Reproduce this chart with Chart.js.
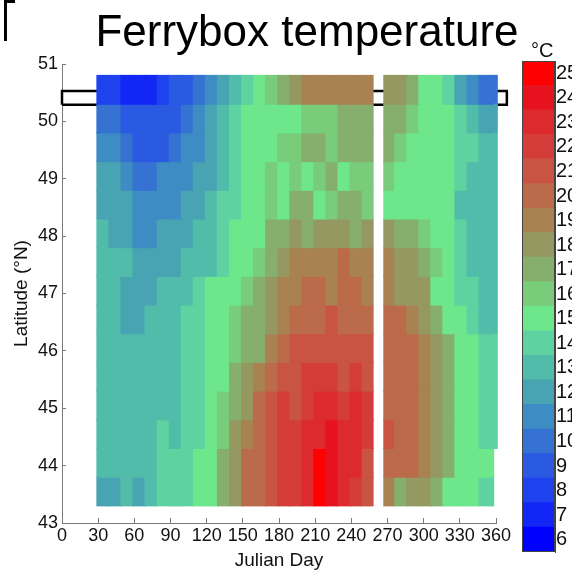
<!DOCTYPE html>
<html>
<head>
<meta charset="utf-8">
<script src="https://cdn.jsdelivr.net/npm/chart.js@4.4.0/dist/chart.umd.min.js"></script>
<style>
    html, body { margin: 0; padding: 0; background: #fff; overflow: hidden; }
    #wrap { position: relative; width: 572px; height: 577px; overflow: hidden; }
    #main { position: absolute; left: 0; top: 0; }
    #cbar { position: absolute; left: 512px; top: 48px; }
    #title { position: absolute; left: 0; top: 9px; width: 614px; text-align: center;
             font: 44px/1 'Liberation Sans', Arial, sans-serif; color: #000; white-space: nowrap; }
    #unit { position: absolute; left: 531px; top: 40px;
            font: 20px/1 'Liberation Sans', Arial, sans-serif; color: #111; }
    #corner { position: absolute; left: 4px; top: 0; width: 8px; height: 38px;
              border-left: 3px solid #000; border-top: 3px solid #000; }
</style>
</head>
<body>
<div id="wrap">
    <div id="corner"></div>
    <canvas id="main" width="520" height="577"></canvas>
    <canvas id="cbar" width="103" height="517"></canvas>
    <div id="title">Ferrybox temperature</div>
    <div id="unit">°C</div>
</div>
<script>
// latitude band centres (each band 0.5 deg), top to bottom
const latCenters = [50.55, 50.05, 49.55, 49.05, 48.55, 48.05, 47.55, 47.05, 46.55, 46.05, 45.55, 45.05, 44.55, 44.05, 43.55];

// Julian day span of each column
const colStart = [29, 39, 49, 59, 69, 79, 89, 99, 109, 119, 129, 139, 149, 159, 169, 179, 189, 199, 209, 219, 229, 239, 249,
                  267, 276, 286, 296, 306, 316, 326, 336, 346];
const colEnd   = [39, 49, 59, 69, 79, 89, 99, 109, 119, 129, 139, 149, 159, 169, 179, 189, 199, 209, 219, 229, 239, 249, 258,
                  276, 286, 296, 306, 316, 326, 336, 346, 358];

// temperature (deg C, colour level) per latitude band, one row per entry of latCenters
const tempRows = [
    [8, 8, 7, 7, 7, 8, 9, 9, 10, 11, 12, 13, 14, 15, 16, 17, 18, 19, 19, 19, 19, 19, 19, 18, 18, 17, 15, 15, 14, 12, 11, 10],
    [10, 10, 9, 9, 9, 9, 9, 10, 11, 12, 13, 14, 15, 15, 15, 15, 15, 16, 16, 16, 17, 17, 17, 17, 17, 16, 15, 15, 15, 14, 13, 12],
    [11, 11, 10, 9, 9, 9, 10, 11, 11, 12, 13, 14, 15, 15, 15, 16, 16, 17, 17, 16, 17, 17, 17, 17, 16, 15, 15, 15, 15, 14, 14, 13],
    [12, 12, 11, 10, 10, 11, 11, 11, 12, 12, 13, 14, 15, 15, 16, 15, 16, 15, 16, 17, 15, 16, 16, 16, 15, 15, 15, 15, 15, 14, 13, 13],
    [12, 12, 12, 11, 11, 11, 11, 12, 12, 13, 14, 14, 15, 15, 16, 15, 17, 17, 15, 16, 17, 17, 16, 15, 15, 15, 15, 15, 15, 13, 13, 13],
    [13, 12, 12, 11, 11, 12, 12, 12, 13, 13, 14, 15, 15, 15, 17, 17, 18, 17, 18, 18, 18, 17, 18, 18, 17, 17, 16, 15, 15, 14, 13, 13],
    [13, 13, 13, 12, 12, 12, 12, 13, 13, 13, 14, 15, 15, 16, 17, 18, 19, 19, 19, 19, 20, 19, 19, 19, 18, 18, 17, 16, 15, 14, 13, 13],
    [13, 13, 12, 12, 12, 13, 13, 13, 14, 15, 15, 15, 16, 17, 18, 19, 19, 20, 20, 19, 20, 20, 19, 19, 18, 18, 18, 15, 15, 14, 14, 13],
    [13, 13, 12, 12, 13, 13, 13, 14, 14, 15, 15, 16, 17, 17, 18, 19, 20, 20, 20, 21, 20, 20, 20, 20, 20, 19, 18, 17, 15, 15, 14, 13],
    [13, 13, 13, 13, 13, 13, 13, 14, 14, 15, 15, 16, 17, 17, 19, 20, 21, 21, 21, 21, 21, 21, 21, 20, 20, 20, 19, 18, 17, 15, 15, 14],
    [13, 13, 13, 13, 13, 13, 13, 14, 14, 15, 15, 17, 18, 19, 20, 21, 21, 22, 22, 22, 21, 22, 21, 20, 20, 20, 19, 18, 17, 15, 15, 14],
    [13, 13, 13, 13, 13, 13, 13, 14, 14, 15, 16, 17, 18, 20, 21, 22, 21, 22, 23, 23, 22, 23, 22, 20, 20, 20, 19, 18, 17, 15, 15, 14],
    [13, 13, 13, 13, 13, 14, 13, 14, 14, 15, 16, 18, 19, 20, 21, 22, 22, 23, 23, 24, 23, 23, 22, 21, 20, 20, 19, 18, 17, 15, 15, 14],
    [13, 13, 13, 13, 13, 14, 14, 14, 15, 15, 17, 18, 20, 20, 21, 22, 22, 23, 25, 24, 23, 23, 21, 20, 20, 20, 19, 18, 17, 15, 15, 15],
    [12, 12, 13, 12, 13, 14, 14, 14, 15, 15, 17, 18, 20, 20, 21, 22, 22, 23, 25, 24, 23, 22, 21, 19, 17, 18, 18, 17, 15, 15, 15, 14]
];

// last short transect at the end of the year (no data in the two southern bands)
const stripDays = [358, 361];
const stripTemps = [10, 12, 13, 13, 13, 13, 13, 13, 13, 14, 14, 14, 14, null, null];

// outlined latitude box
const boxDays = [0, 369, 369, 0, 0];
const boxLats = [50.29, 50.29, 50.53, 50.53, 50.29];

// colour bar levels
const colorLevels = [6, 7, 8, 9, 10, 11, 12, 13, 14, 15, 16, 17, 18, 19, 20, 21, 22, 23, 24, 25];

const palette = ['#0000ff', '#1226f6', '#1e42ee', '#2a5ae2', '#3672d2', '#3e8cc4', '#48a4b2', '#52bcaa', '#5ed2a0', '#6ee68c',
                 '#78cc7a', '#86ae6c', '#969862', '#a88250', '#bb6a4a', '#c95443', '#d43c3a', '#dc2a2e', '#e6121e', '#ff0000'];

function levelColor(t) {
    return palette[colorLevels.indexOf(t)];
}

const tickFont = { family: "'Liberation Sans', Arial, sans-serif", size: 18 };
const barFont = { family: "'Liberation Sans', Arial, sans-serif", size: 20 };
const titleFont = { family: "'Liberation Sans', Arial, sans-serif", size: 19 };
const axisGray = '#7a7a7a';

const cellStyle = {
    type: 'bar',
    indexAxis: 'y',
    grouped: false,
    barPercentage: 1,
    categoryPercentage: 1,
    borderWidth: 0,
    inflateAmount: 0.6
};

let datasets = tempRows.map(function (row, r) {
    return Object.assign({}, cellStyle, {
        data: row.map((t, c) => ({ x: [colStart[c], colEnd[c]], y: latCenters[r] })),
        backgroundColor: row.map(levelColor)
    });
});

let stripIdx = stripTemps.map((t, r) => r).filter(r => stripTemps[r] !== null);
datasets.push(Object.assign({}, cellStyle, {
    clip: false,
    data: stripIdx.map(r => ({ x: stripDays, y: latCenters[r] })),
    backgroundColor: stripIdx.map(r => levelColor(stripTemps[r]))
}));

datasets.push({
    type: 'line',
    indexAxis: 'x',
    data: boxDays.map((d, i) => ({ x: d, y: boxLats[i] })),
    borderColor: '#000',
    borderWidth: 2.5,
    pointRadius: 0,
    fill: false,
    tension: 0,
    clip: false
});

// negative tick length turns the tick marks inwards, like the original axes
new Chart(document.getElementById('main'), {
    type: 'bar',
    data: { datasets: datasets },
    options: {
        responsive: false,
        animation: false,
        layout: { padding: { left: 0, right: 24, top: 64, bottom: 0 } },
        plugins: { legend: { display: false }, tooltip: { enabled: false } },
        scales: {
            x: {
                type: 'linear',
                offset: false,
                min: 0,
                max: 360,
                ticks: { stepSize: 30, autoSkip: false, maxRotation: 0, color: '#111', font: tickFont, padding: 7 },
                grid: { offset: false, drawOnChartArea: false, tickLength: -5, color: axisGray },
                border: { color: axisGray },
                title: { display: true, text: 'Julian Day', color: '#111', font: titleFont, padding: { top: 0, bottom: 5 } },
                afterFit: function (scale) { scale.height = 54; }
            },
            y: {
                type: 'linear',
                offset: false,
                min: 43,
                max: 51,
                ticks: { stepSize: 1, autoSkip: false, color: '#111', font: tickFont, padding: 8 },
                grid: { offset: false, drawOnChartArea: false, tickLength: -4, color: axisGray },
                border: { color: axisGray },
                title: { display: true, text: 'Latitude (°N)', color: '#111', font: titleFont, padding: { top: 10, bottom: 0 } },
                afterFit: function (scale) { scale.width = 62; }
            }
        }
    }
});

const frame = {
    id: 'frame',
    afterDatasetsDraw(chart) {
        const a = chart.chartArea;
        const ctx = chart.ctx;
        ctx.save();
        ctx.strokeStyle = '#444';
        ctx.lineWidth = 1;
        ctx.strokeRect(a.left + 0.5, a.top + 0.5, a.right - a.left - 1, a.bottom - a.top - 1);
        ctx.restore();
    }
};

new Chart(document.getElementById('cbar'), {
    type: 'bar',
    data: {
        labels: ['°C'],
        datasets: colorLevels.map((k, i) => ({
            data: [[k - 0.5, k + 0.5]],
            backgroundColor: palette[i],
            grouped: false,
            barPercentage: 1,
            categoryPercentage: 1,
            borderWidth: 0,
            inflateAmount: 0.6
        }))
    },
    options: {
        responsive: false,
        animation: false,
        layout: { padding: { left: 10, right: 0, top: 12, bottom: 12 } },
        plugins: { legend: { display: false }, tooltip: { enabled: false } },
        scales: {
            x: { display: false },
            y: {
                position: 'right',
                offset: false,
                min: 5.5,
                max: 25.5,
                afterBuildTicks: function (scale) { scale.ticks = colorLevels.map(v => ({ value: v })); },
                ticks: { autoSkip: false, color: '#111', font: barFont, padding: 1 },
                grid: { offset: false, drawOnChartArea: false, tickLength: 0, color: '#444' },
                border: { color: '#444' },
                afterFit: function (scale) { scale.width = 60; }
            }
        }
    },
    plugins: [frame]
});
</script>
</body>
</html>
